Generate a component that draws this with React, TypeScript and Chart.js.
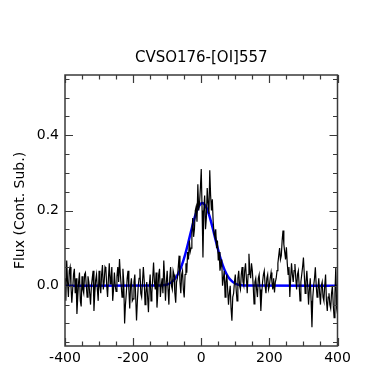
import React, { useEffect, useRef } from "react";
import { Chart, registerables } from "chart.js";

Chart.register(...registerables);

const TITLE = "CVSO176-[OI]557";
const Y_TITLE = "Flux (Cont. Sub.)";
const X_TICKS = [-400, -200, 0, 200, 400];
const Y_TICKS = [0, 0.2, 0.4];
const X_MIN = -400;
const X_MAX = 400;
const Y_MIN = -0.16;
const Y_MAX = 0.56;
const V_START = -400;
const V_STEP = 2.5;

// observed flux, one value per 2.5 km/s from -400 to +400
const FLUX = [
  0.02, -0.04, 0.067, 0.01, -0.03, 0.04, 0.05, 0.0, -0.045, -0.01,
  0.03, 0.045, -0.02, 0.02, -0.075, -0.03, 0.01, 0.035, -0.04, -0.055,
  0.025, -0.01, -0.02, 0.03, 0.035, 0.0, -0.03, 0.025, 0.01, -0.02,
  -0.05, 0.0, 0.02, 0.04, -0.067, -0.02, 0.015, 0.03, -0.01, -0.04,
  0.04, 0.0, -0.02, 0.03, 0.055, -0.01, 0.01, 0.05, 0.045, 0.0,
  -0.03, 0.02, 0.06, 0.005, 0.02, 0.05, -0.04, -0.01, 0.035, 0.0,
  -0.015, 0.025, 0.05, 0.01, 0.071, 0.03, 0.0, -0.03, 0.045, 0.01,
  -0.1, -0.05, -0.02, 0.02, 0.04, -0.01, -0.06, 0.0, 0.02, -0.04,
  -0.035, 0.01, 0.03, -0.03, -0.092, -0.04, 0.0, 0.02, 0.045, -0.02,
  -0.03, 0.01, 0.05, 0.015, -0.05, -0.02, 0.01, -0.03, -0.07, 0.0,
  0.03, -0.04, -0.02, 0.02, 0.062, 0.01, -0.01, 0.035, -0.058, -0.02,
  0.03, 0.045, -0.03, 0.0, 0.02, -0.02, 0.067, 0.02, -0.04, 0.01,
  0.04, -0.01, -0.05, 0.02, 0.05, 0.0, -0.01, 0.04, 0.03, -0.02,
  -0.045, 0.01, 0.02, 0.05, 0.08, 0.01, -0.02, 0.03, 0.04, -0.01,
  -0.031, 0.03, 0.06, 0.035, 0.09, 0.07, 0.12, 0.09, 0.1, 0.14,
  0.18, 0.13, 0.15, 0.2, 0.21, 0.17, 0.27, 0.2, 0.22, 0.26,
  0.31, 0.2, 0.075, 0.2, 0.24, 0.15, 0.18, 0.26, 0.22, 0.19,
  0.307, 0.24, 0.2, 0.23, 0.17, 0.14, 0.13, 0.15, 0.1, 0.12,
  0.067, 0.09, 0.04, 0.055, 0.07, 0.0, 0.02, 0.04, -0.03, 0.01,
  0.03, -0.01, -0.05, -0.02, 0.0, -0.06, -0.093, -0.03, -0.02, 0.01,
  0.03, -0.01, -0.04, 0.02, 0.04, 0.0, -0.01, 0.03, 0.05, 0.01,
  0.0, 0.04, 0.06, 0.02, -0.02, 0.03, 0.085, 0.04, 0.02, 0.06,
  0.04, 0.0, -0.048, 0.01, 0.02, -0.01, -0.03, 0.02, 0.03, -0.01,
  -0.067, -0.02, 0.01, 0.03, 0.04, 0.0, -0.02, 0.02, 0.03, -0.01,
  0.0, 0.02, 0.035, 0.01, -0.01, 0.02, -0.018, 0.01, 0.02, 0.04,
  0.06, 0.08, 0.1, 0.07, 0.08, 0.12, 0.147, 0.11, 0.09, 0.07,
  0.102, 0.06, 0.03, 0.05, -0.03, 0.02, 0.06, 0.03, 0.01, 0.04,
  0.058, 0.02, -0.01, 0.03, 0.04, 0.0, -0.04, 0.01, 0.03, 0.05,
  0.075, 0.03, -0.02, 0.01, 0.04, 0.0, -0.05, -0.01, 0.02, -0.04,
  -0.11, -0.03, 0.0, 0.02, 0.049, 0.0, -0.03, -0.01, 0.02, -0.02,
  -0.05, 0.0, 0.01, -0.03, -0.04, 0.0, 0.03, -0.04, -0.067, -0.03,
  -0.02, -0.05, -0.06, -0.02, 0.0, -0.05, -0.085, -0.02, 0.05, -0.06,
  -0.075,
];

// Gaussian fit, sampled
const FIT_V = [
  -400, -117, -107, -97, -87, -77, -67, -57, -47, -37, -27, -17, -7, 3,
  13, 23, 33, 43, 53, 63, 73, 83, 93, 103, 113, 123, 400,
];
const FIT_F = [
  0, 0.0009, 0.0021, 0.0046, 0.0097, 0.0186, 0.0332, 0.0549, 0.0838, 0.1187,
  0.1555, 0.1886, 0.2116, 0.22, 0.2116, 0.1886, 0.1555, 0.1187, 0.0838,
  0.0549, 0.0332, 0.0186, 0.0097, 0.0046, 0.0021, 0.0009, 0,
];

const FONT = "'DejaVu Sans', sans-serif";

const framePlugin = {
  id: "frameTicks",
  afterDatasetsDraw(chart: any) {
    const { ctx, chartArea: a, scales } = chart;
    const xs = scales.x;
    const ys = scales.y;
    ctx.save();
    ctx.strokeStyle = "#3a3a3a";
    ctx.lineWidth = 1.2;
    ctx.beginPath();
    for (let v = X_MIN; v <= X_MAX; v += 50) {
      const px = Math.round(xs.getPixelForValue(v)) + 0.5;
      const len = v % 200 === 0 ? 8 : 4.5;
      ctx.moveTo(px, a.bottom);
      ctx.lineTo(px, a.bottom - len);
      ctx.moveTo(px, a.top);
      ctx.lineTo(px, a.top + len);
    }
    for (let k = -3; k <= 11; k++) {
      const v = k * 0.05;
      if (v < Y_MIN || v > Y_MAX) continue;
      const py = Math.round(ys.getPixelForValue(v)) + 0.5;
      const len = k % 4 === 0 ? 8 : 4.5;
      ctx.moveTo(a.left, py);
      ctx.lineTo(a.left + len, py);
      ctx.moveTo(a.right, py);
      ctx.lineTo(a.right - len, py);
    }
    ctx.stroke();
    ctx.lineWidth = 1.5;
    ctx.strokeRect(a.left, a.top, a.right - a.left, a.bottom - a.top);
    ctx.restore();
  },
  afterDraw(chart: any) {
    const { ctx, chartArea: a } = chart;
    ctx.save();
    ctx.fillStyle = "#000";
    ctx.textAlign = "center";
    ctx.textBaseline = "middle";
    ctx.font = `15px ${FONT}`;
    ctx.fillText(TITLE, (a.left + a.right) / 2, 58);
    ctx.font = `14px ${FONT}`;
    ctx.translate(20, (a.top + a.bottom) / 2);
    ctx.rotate(-Math.PI / 2);
    ctx.fillText(Y_TITLE, 0, 0);
    ctx.restore();
  },
};

export default function App() {
  const ref = useRef<HTMLCanvasElement | null>(null);

  useEffect(() => {
    if (!ref.current) return;
    const spectrum = FLUX.map((f, i) => ({ x: V_START + V_STEP * i, y: f }));
    const fit = FIT_V.map((v, i) => ({ x: v, y: FIT_F[i] }));
    const chart = new Chart(ref.current, {
      type: "line",
      data: {
        datasets: [
          {
            data: spectrum,
            borderColor: "#000000",
            borderWidth: 1.2,
            pointRadius: 0,
            tension: 0,
          },
          {
            data: fit,
            borderColor: "#0000ff",
            borderWidth: 2.5,
            pointRadius: 0,
            cubicInterpolationMode: "monotone",
          },
        ],
      },
      options: {
        animation: false,
        responsive: false,
        events: [],
        layout: { padding: { top: 75, right: 39.5, left: 0, bottom: 0 } },
        plugins: {
          legend: { display: false },
          tooltip: { enabled: false },
          title: { display: false },
        },
        scales: {
          x: {
            type: "linear",
            min: X_MIN,
            max: X_MAX,
            grid: { display: false, drawTicks: false },
            border: { display: false },
            afterBuildTicks: (s: any) => {
              s.ticks = X_TICKS.map((v) => ({ value: v }));
            },
            afterFit: (s: any) => {
              s.height = 23;
            },
            ticks: {
              padding: 4,
              maxRotation: 0,
              autoSkip: false,
              color: "#000",
              font: { family: FONT, size: 14 },
              callback: (v: any) => String(v),
            },
          },
          y: {
            type: "linear",
            min: Y_MIN,
            max: Y_MAX,
            grid: { display: false, drawTicks: false },
            border: { display: false },
            afterBuildTicks: (s: any) => {
              s.ticks = Y_TICKS.map((v) => ({ value: v }));
            },
            afterFit: (s: any) => {
              s.width = 65;
            },
            ticks: {
              padding: 6,
              autoSkip: false,
              color: "#000",
              font: { family: FONT, size: 14 },
              callback: (v: any) => Number(v).toFixed(1),
            },
          },
        },
      },
      plugins: [framePlugin],
    });
    return () => chart.destroy();
  }, []);

  return (
    <div style={{ position: "absolute", left: 0, top: 0, width: 377, height: 369, background: "#fff" }}>
      <canvas ref={ref} width={377} height={369} style={{ width: 377, height: 369, display: "block" }} />
    </div>
  );
}
